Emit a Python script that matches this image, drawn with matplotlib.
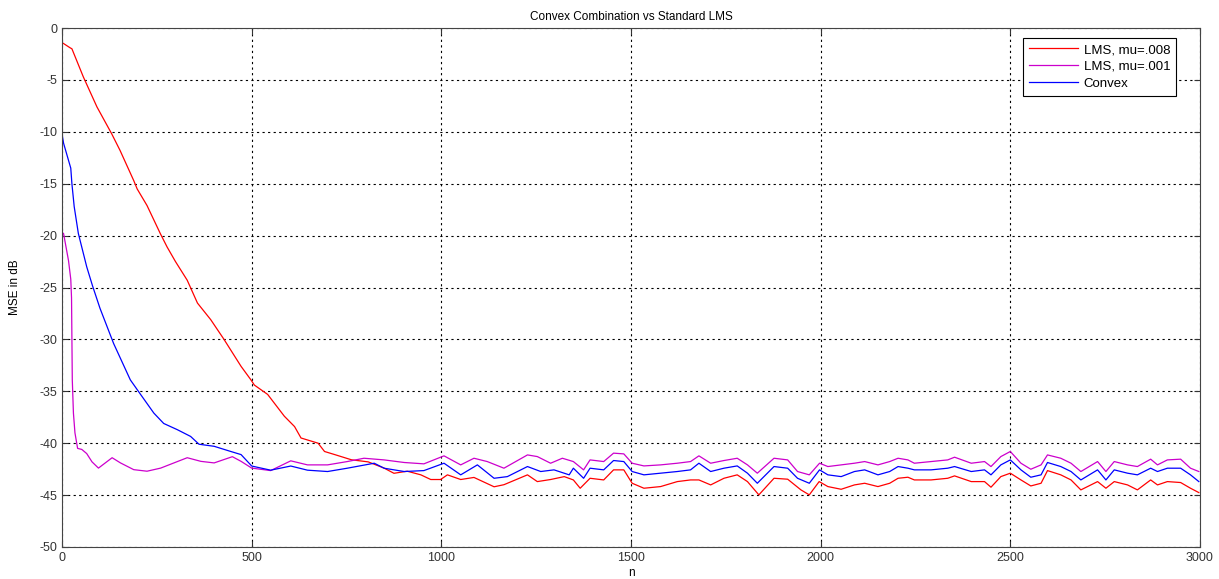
import numpy as np
import matplotlib
matplotlib.use('Agg')
from matplotlib import pyplot as plt

# values (n, MSE in dB)
lms_fast_n = [0, 21, 26, 56, 92, 131, 153, 189, 198, 224, 259, 277, 299, 330, 357, 392, 427,
              472, 498, 507, 542, 586, 613, 630, 675, 692, 719, 763, 807, 849, 875, 910, 946,
              972, 998, 1016, 1051, 1086, 1139, 1165, 1227, 1253, 1288, 1324, 1348, 1366, 1392,
              1428, 1454, 1481, 1503, 1534, 1578, 1622, 1657, 1679, 1710, 1745, 1780, 1807,
              1837, 1877, 1913, 1948, 1970, 1996, 2019, 2054, 2089, 2116, 2151, 2182, 2204,
              2230, 2247, 2291, 2335, 2353, 2397, 2432, 2449, 2475, 2500, 2528, 2554, 2581,
              2598, 2633, 2660, 2686, 2730, 2752, 2774, 2809, 2835, 2870, 2888, 2914, 2949,
              2975, 2997]
lms_fast_db = [-1.4, -1.9, -2.0, -4.7, -7.6, -10.2, -11.8, -14.7, -15.5, -17.1, -19.8, -21.1,
               -22.5, -24.3, -26.5, -28.1, -30.0, -32.6, -33.9, -34.4, -35.3, -37.4, -38.4,
               -39.5, -40.0, -40.8, -41.1, -41.6, -41.8, -42.4, -42.9, -42.7, -43.05, -43.5,
               -43.5, -43.05, -43.5, -43.3, -44.2, -44.0, -43.05, -43.7, -43.5, -43.22, -43.54,
               -44.34, -43.38, -43.54, -42.57, -42.57, -43.86, -44.34, -44.18, -43.70, -43.54,
               -43.54, -44.02, -43.38, -43.05, -43.70, -44.98, -43.38, -43.47, -44.50, -44.98,
               -43.70, -44.18, -44.44, -44.02, -43.86, -44.18, -43.86, -43.38, -43.28, -43.54,
               -43.54, -43.38, -43.15, -43.70, -43.70, -44.24, -43.22, -42.89, -43.54, -44.12,
               -43.86, -42.64, -43.05, -43.54, -44.50, -43.70, -44.34, -43.70, -44.02, -44.50,
               -43.54, -44.02, -43.70, -43.79, -44.34, -44.76]

lms_slow_n = [0, 4, 17, 23, 25, 27, 30, 34, 41, 52, 65, 79, 96, 114, 132, 154, 189, 224, 260,
              295, 330, 366, 401, 449, 472, 500, 550, 603, 647, 700, 752, 796, 849, 902, 954,
              1007, 1051, 1086, 1121, 1165, 1227, 1253, 1288, 1319, 1348, 1375, 1392, 1428,
              1454, 1481, 1503, 1534, 1578, 1622, 1657, 1679, 1710, 1745, 1780, 1807, 1833,
              1877, 1913, 1939, 1970, 1997, 2019, 2054, 2089, 2116, 2151, 2182, 2204, 2230,
              2247, 2291, 2335, 2353, 2397, 2432, 2449, 2475, 2500, 2528, 2554, 2581, 2598,
              2633, 2660, 2686, 2730, 2752, 2774, 2809, 2835, 2870, 2888, 2914, 2949, 2975,
              2997]
lms_slow_db = [-19.7, -19.8, -22.4, -24.2, -26.0, -33.9, -37.1, -39.0, -40.5, -40.6, -41.0,
               -41.8, -42.4, -41.9, -41.4, -41.9, -42.55, -42.7, -42.4, -41.9, -41.4, -41.75,
               -41.9, -41.3, -41.75, -42.4, -42.64, -41.70, -42.09, -42.09, -41.77, -41.45,
               -41.61, -41.86, -41.99, -41.22, -42.09, -41.45, -41.77, -42.41, -41.13, -41.29,
               -41.93, -41.45, -41.77, -42.57, -41.61, -41.77, -40.96, -41.03, -41.93, -42.19,
               -42.09, -41.93, -41.77, -41.22, -41.93, -41.67, -41.45, -42.09, -42.89, -41.45,
               -41.61, -42.73, -43.05, -41.93, -42.25, -42.09, -41.93, -41.77, -42.09, -41.77,
               -41.45, -41.61, -41.93, -41.77, -41.61, -41.35, -41.93, -41.77, -42.25, -41.29,
               -40.80, -41.93, -42.51, -42.09, -41.13, -41.45, -41.93, -42.73, -41.77, -42.73,
               -41.77, -42.09, -42.25, -41.54, -42.09, -41.61, -41.54, -42.41, -42.73]

convex_n = [0, 4, 23, 26, 32, 43, 65, 80, 100, 136, 180, 207, 242, 268, 304, 339, 361, 401,
            445, 472, 500, 550, 603, 647, 700, 752, 823, 849, 902, 954, 1007, 1051, 1095, 1139,
            1174, 1227, 1262, 1297, 1337, 1348, 1375, 1392, 1428, 1454, 1481, 1503, 1534, 1578,
            1622, 1657, 1679, 1710, 1745, 1780, 1807, 1833, 1877, 1913, 1939, 1970, 1997, 2019,
            2054, 2089, 2116, 2151, 2182, 2204, 2230, 2247, 2291, 2335, 2353, 2397, 2432, 2449,
            2475, 2500, 2528, 2554, 2581, 2598, 2633, 2660, 2686, 2730, 2752, 2774, 2809, 2835,
            2870, 2888, 2914, 2949, 2975, 2997]
convex_db = [-10.2, -11.1, -13.5, -15.0, -17.2, -19.8, -23.0, -24.8, -27.0, -30.4, -33.9, -35.3,
             -37.1, -38.1, -38.7, -39.35, -40.1, -40.3, -40.8, -41.1, -42.2, -42.6, -42.2, -42.6,
             -42.73, -42.41, -41.93, -42.41, -42.73, -42.64, -41.93, -43.05, -42.09, -43.38,
             -43.22, -42.25, -42.73, -42.57, -43.05, -42.41, -43.38, -42.41, -42.57, -41.67,
             -41.77, -42.73, -43.05, -42.89, -42.73, -42.57, -41.93, -42.73, -42.41, -42.19,
             -42.89, -43.86, -42.25, -42.41, -43.38, -43.86, -42.57, -43.05, -43.22, -42.73,
             -42.57, -43.05, -42.73, -42.25, -42.41, -42.57, -42.57, -42.41, -42.25, -42.73,
             -42.57, -43.05, -42.09, -41.61, -42.57, -43.28, -43.05, -41.86, -42.25, -42.73,
             -43.54, -42.57, -43.54, -42.57, -42.89, -43.05, -42.41, -42.73, -42.41, -42.41,
             -43.05, -43.70]

plt.rcParams['font.family'] = ['Liberation Sans', 'DejaVu Sans']
plt.rcParams['font.size'] = 9
plt.rcParams['axes.unicode_minus'] = False

fig = plt.figure(figsize=(12.19, 5.79), dpi=100)
ax = fig.add_axes([0.0509, 0.0553, 0.9335, 0.8963])

ax.plot(lms_fast_n, lms_fast_db, color='#ff0000', lw=0.9, label='LMS, mu=.008')
ax.plot(lms_slow_n, lms_slow_db, color='#cc00cc', lw=0.9, label='LMS, mu=.001')
ax.plot(convex_n, convex_db, color='#0000ff', lw=0.9, label='Convex')

ax.set_xlim(0, 3000)
ax.set_ylim(-50, 0)
ax.set_xticks(np.arange(0, 3001, 500))
ax.set_yticks(np.arange(-50, 1, 5))
ax.grid(True, color='black', linestyle=(0, (2, 3)), lw=0.8)
ax.tick_params(direction='in', top=True, right=True, length=4, colors='#333333')
for s in ax.spines.values():
    s.set_color('#444444')

ax.set_title('Convex Combination vs Standard LMS', fontsize=8.5, pad=6)
ax.set_xlabel('n', fontsize=8.5, labelpad=2)
ax.set_ylabel('MSE in dB', fontsize=8.5)
ax.yaxis.set_label_coords(-0.036, 0.5)

leg = ax.legend(loc='upper right', bbox_to_anchor=(0.979, 0.981), borderaxespad=0,
                fancybox=False, framealpha=1, edgecolor='black', handlelength=3.7,
                borderpad=0.45, labelspacing=0.35, handletextpad=0.45, fontsize=9.5)
leg.get_frame().set_linewidth(0.8)

fig.savefig('out.png', dpi=100)
